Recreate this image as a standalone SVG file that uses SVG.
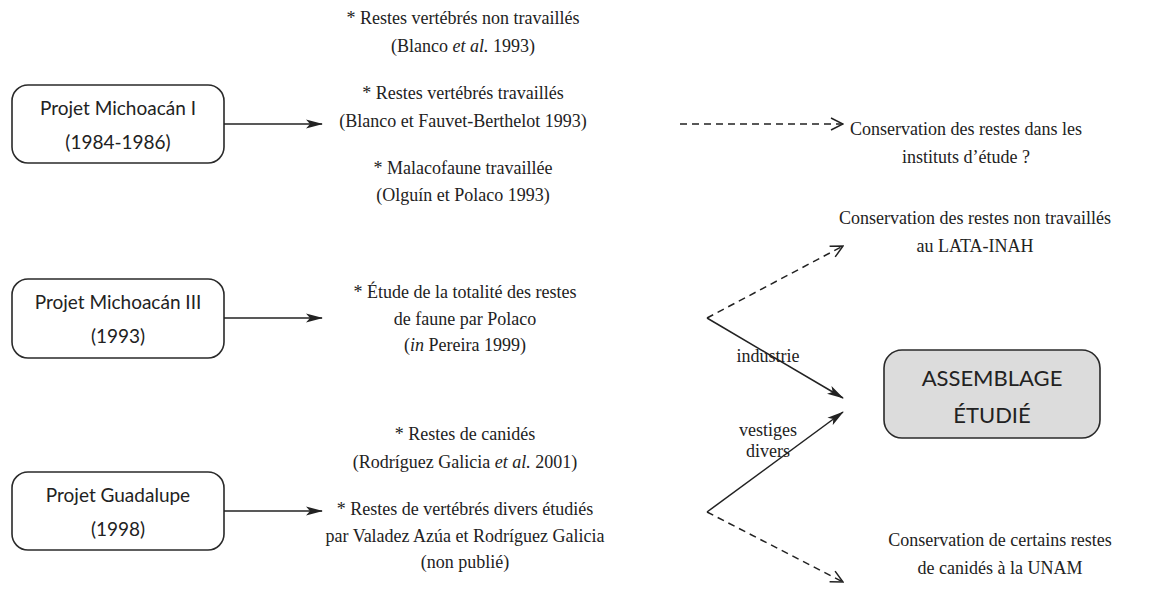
<svg xmlns="http://www.w3.org/2000/svg" width="1162" height="606" viewBox="0 0 1162 606">
<defs>
<style>
.box{fill:#fff;stroke:#2a2a2a;stroke-width:1.6}
.gbox{fill:#dcdcdc;stroke:#2a2a2a;stroke-width:1.6}
.bt{font-family:"Lato","Open Sans",sans-serif;font-size:19px;fill:#222;text-anchor:middle}
.at{font-family:"Lato","Open Sans",sans-serif;font-size:22px;fill:#222;text-anchor:middle}
.st{font-family:"Liberation Serif","Times New Roman",serif;font-size:18px;fill:#222;text-anchor:middle}
.sol{stroke:#222;stroke-width:1.5;fill:none}
.dash{stroke:#222;stroke-width:1.5;fill:none;stroke-dasharray:7 5}
</style>
<marker id="ah" viewBox="0 0 17 10" refX="16" refY="5" markerWidth="17" markerHeight="10" markerUnits="userSpaceOnUse" orient="auto">
<path d="M0,0.5 L17,5 L0,9.5 L4,5 Z" fill="#222"/>
</marker>
<marker id="oh" viewBox="0 0 14 14" refX="13" refY="7" markerWidth="14" markerHeight="14" markerUnits="userSpaceOnUse" orient="auto">
<path d="M1,1 L13,7 L1,13" fill="none" stroke="#222" stroke-width="1.5"/>
</marker>
</defs>
<rect width="1162" height="606" fill="#fff"/>

<g id="node-michoacan1">
<rect class="box" x="12" y="85" width="212" height="78" rx="16"/>
<text class="bt" x="118" y="115">Projet Michoacán I</text>
<text class="bt" x="118" y="149">(1984-1986)</text>
</g>
<g id="node-michoacan3">
<rect class="box" x="12" y="279" width="212" height="79" rx="16"/>
<text class="bt" x="118" y="309">Projet Michoacán III</text>
<text class="bt" x="118" y="343">(1993)</text>
</g>
<g id="node-guadalupe">
<rect class="box" x="12" y="472" width="212" height="78" rx="16"/>
<text class="bt" x="118" y="502">Projet Guadalupe</text>
<text class="bt" x="118" y="536">(1998)</text>
</g>

<g id="node-text1">
<text class="st" x="463" y="24">* Restes vertébrés non travaillés</text>
<text class="st" x="463" y="52">(Blanco <tspan font-style="italic">et al.</tspan> 1993)</text>
<text class="st" x="463" y="99">* Restes vertébrés travaillés</text>
<text class="st" x="463" y="127">(Blanco et Fauvet-Berthelot 1993)</text>
<text class="st" x="463" y="174">* Malacofaune travaillée</text>
<text class="st" x="463" y="201">(Olguín et Polaco 1993)</text>
</g>
<g id="node-text2">
<text class="st" x="465" y="298">* Étude de la totalité des restes</text>
<text class="st" x="465" y="325">de faune par Polaco</text>
<text class="st" x="465" y="351">(<tspan font-style="italic">in</tspan> Pereira 1999)</text>
</g>
<g id="node-text3">
<text class="st" x="465" y="440">* Restes de canidés</text>
<text class="st" x="465" y="468">(Rodríguez Galicia <tspan font-style="italic">et al.</tspan> 2001)</text>
<text class="st" x="465" y="515">* Restes de vertébrés divers étudiés</text>
<text class="st" x="465" y="542">par Valadez Azúa et Rodríguez Galicia</text>
<text class="st" x="465" y="568">(non publié)</text>
</g>

<g id="node-conserv1">
<text class="st" x="966" y="135">Conservation des restes dans les</text>
<text class="st" x="966" y="163">instituts d’étude ?</text>
</g>
<g id="node-conserv2">
<text class="st" x="975" y="224">Conservation des restes non travaillés</text>
<text class="st" x="975" y="252">au LATA-INAH</text>
</g>
<g id="node-conserv3">
<text class="st" x="1000" y="546">Conservation de certains restes</text>
<text class="st" x="1000" y="574">de canidés à la UNAM</text>
</g>

<g id="node-assemblage">
<rect class="gbox" x="884" y="350" width="216" height="88" rx="18"/>
<text class="at" x="992" y="386">ASSEMBLAGE</text>
<text class="at" x="992" y="423">ÉTUDIÉ</text>
</g>

<g id="connectors">
<line class="sol" x1="224" y1="124" x2="322" y2="124" marker-end="url(#ah)"/>
<line class="sol" x1="224" y1="318" x2="322" y2="318" marker-end="url(#ah)"/>
<line class="sol" x1="224" y1="511" x2="322" y2="511" marker-end="url(#ah)"/>
<line class="dash" x1="680" y1="124" x2="843" y2="124" marker-end="url(#oh)"/>
<line class="dash" x1="707" y1="318" x2="843" y2="246" marker-end="url(#oh)"/>
<line class="sol" x1="707" y1="318" x2="843" y2="398" marker-end="url(#ah)"/>
<line class="sol" x1="707" y1="512" x2="843" y2="412" marker-end="url(#ah)"/>
<line class="dash" x1="707" y1="512" x2="843" y2="582" marker-end="url(#oh)"/>
<text class="st" x="768" y="362">industrie</text>
<text class="st" x="768" y="436">vestiges</text>
<text class="st" x="768" y="457">divers</text>
</g>
</svg>
